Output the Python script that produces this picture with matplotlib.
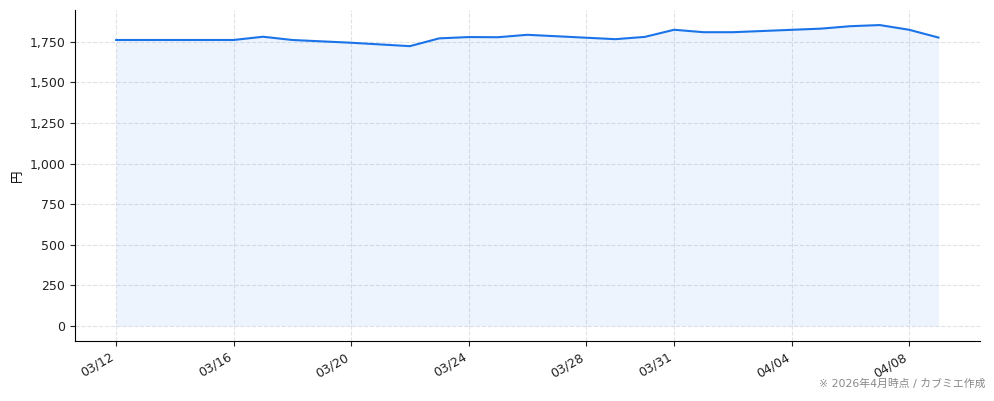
import numpy as np
import pandas as pd
import matplotlib.pyplot as plt
import matplotlib.dates as mdates
import matplotlib.ticker as mticker

plt.rcParams['font.family'] = ['DejaVu Sans', 'Noto Sans CJK JP']
plt.rcParams['axes.unicode_minus'] = False

# 株価（円）
dates = ['2026-03-12', '2026-03-16', '2026-03-17', '2026-03-18', '2026-03-20',
         '2026-03-22', '2026-03-23', '2026-03-24', '2026-03-25', '2026-03-26',
         '2026-03-29', '2026-03-30', '2026-03-31', '2026-04-01', '2026-04-02',
         '2026-04-05', '2026-04-06', '2026-04-07', '2026-04-08', '2026-04-09']
prices = [1762, 1762, 1782, 1762, 1745,
          1724, 1772, 1780, 1779, 1794,
          1767, 1781, 1825, 1810, 1810,
          1832, 1847, 1854, 1825, 1777]
tick_dates = ['2026-03-12', '2026-03-16', '2026-03-20', '2026-03-24',
              '2026-03-28', '2026-03-31', '2026-04-04', '2026-04-08']
note = '※ 2026年4月時点 / カブミエ作成'

x = pd.to_datetime(dates)

fig = plt.figure(figsize=(9.94, 4.01), dpi=100)
ax = fig.add_axes([0.0755, 0.15, 0.91, 0.825])

ax.plot(x, prices, color='#1a73e8', lw=1.5, zorder=3)
ax.fill_between(x, prices, 0, color='#1a73e8', alpha=0.08, lw=0)

ax.xaxis.set_major_locator(mticker.FixedLocator(mdates.date2num(pd.to_datetime(tick_dates))))
ax.xaxis.set_major_formatter(mdates.DateFormatter('%m/%d'))
ax.yaxis.set_major_locator(mticker.MultipleLocator(250))
ax.yaxis.set_major_formatter(mticker.FuncFormatter(lambda v, p: f'{v:,.0f}'))
plt.setp(ax.get_xticklabels(), rotation=30, ha='right')
ax.tick_params(labelsize=9, colors='#222222')

ax.grid(True, ls='--', color='#e0e2e8', lw=0.8)
ax.set_axisbelow(True)
ax.spines['top'].set_visible(False)
ax.spines['right'].set_visible(False)
ax.set_ylabel('円', fontsize=9)

fig.text(0.991, 0.03, note, ha='right', va='bottom', fontsize=7.8, color='#888888')

plt.savefig('out.png', dpi=100)
